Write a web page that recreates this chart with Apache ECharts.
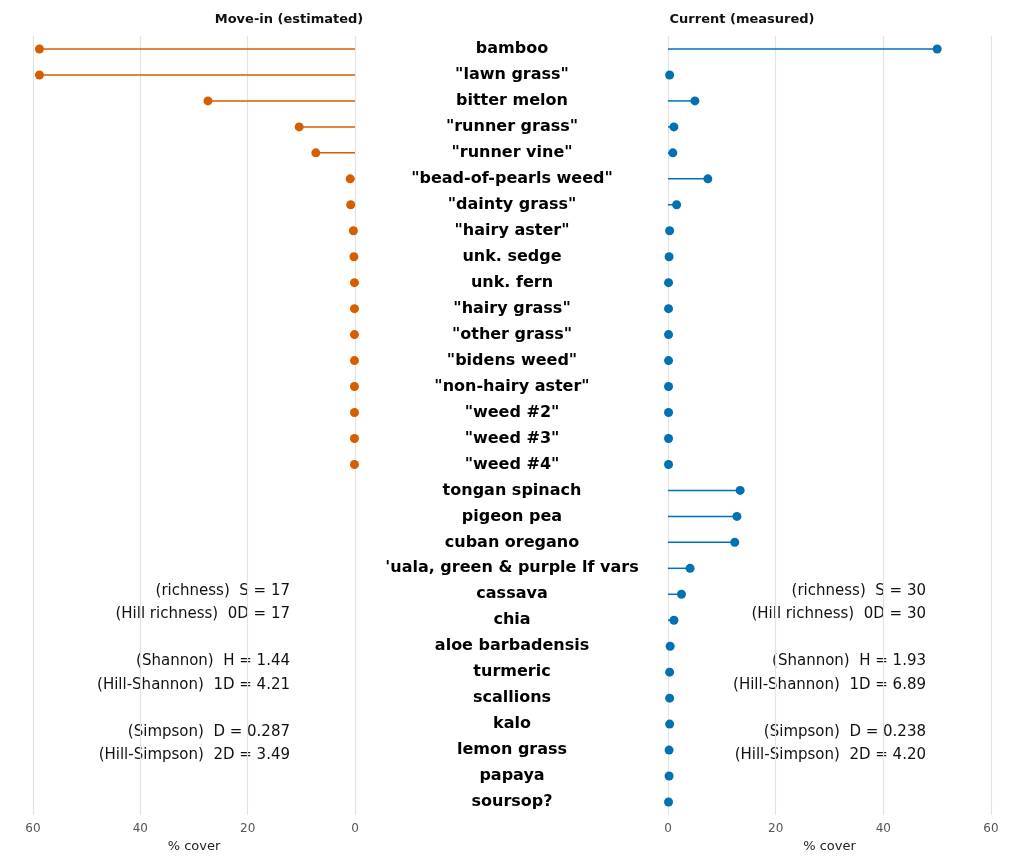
<!DOCTYPE html>
<html>
<head>
<meta charset="utf-8">
<title>Lollipop cover</title>
<script src="https://cdn.jsdelivr.net/npm/echarts@6/dist/echarts.min.js"></script>
</head>
<body style="margin:0">
<div id="main" style="width:1024px;height:866px;"></div>
<script type="text/javascript">
var categories = ['bamboo', '"lawn grass"', 'bitter melon', '"runner grass"', '"runner vine"',
    '"bead-of-pearls weed"', '"dainty grass"', '"hairy aster"', 'unk. sedge', 'unk. fern',
    '"hairy grass"', '"other grass"', '"bidens weed"', '"non-hairy aster"', '"weed #2"',
    '"weed #3"', '"weed #4"', 'tongan spinach', 'pigeon pea', 'cuban oregano',
    "'uala, green & purple lf vars", 'cassava', 'chia', 'aloe barbadensis', 'turmeric',
    'scallions', 'kalo', 'lemon grass', 'papaya', 'soursop?'];
var moveIn = [58.8, 58.8, 27.4, 10.4, 7.3, 0.9, 0.8, 0.3, 0.2, 0.1, 0.1, 0.1, 0.1, 0.1, 0.1, 0.1, 0.1,
    null, null, null, null, null, null, null, null, null, null, null, null, null];
var current = [50.0, 0.3, 5.0, 1.1, 0.9, 7.4, 1.6, 0.3, 0.2, 0.1, 0.1, 0.1, 0.1, 0.1, 0.1, 0.1, 0.1,
    13.4, 12.8, 12.4, 4.1, 2.5, 1.1, 0.4, 0.3, 0.3, 0.3, 0.2, 0.2, 0.1];
var ticks = [0, 20, 40, 60];
var statsLeft = ['(richness)  S = 17', '(Hill richness)  0D = 17', '', '(Shannon)  H = 1.44',
    '(Hill-Shannon)  1D = 4.21', '', '(Simpson)  D = 0.287', '(Hill-Simpson)  2D = 3.49'];
var statsRight = ['(richness)  S = 30', '(Hill richness)  0D = 30', '', '(Shannon)  H = 1.93',
    '(Hill-Shannon)  1D = 6.89', '', '(Simpson)  D = 0.238', '(Hill-Simpson)  2D = 4.20'];

var orange = '#d55e00', blue = '#0072b2';
var myChart = echarts.init(document.getElementById('main'));

function xAxisFor(idx, inverse) {
    return {
        gridIndex: idx, type: 'value', min: 0, max: 60, interval: 20, inverse: inverse,
        name: '% cover', nameLocation: 'middle', nameGap: 20,
        nameTextStyle: { color: '#222', fontSize: 13, fontFamily: 'DejaVu Sans' },
        axisLine: { show: false }, axisTick: { show: false },
        axisLabel: { color: '#555', fontSize: 12, fontFamily: 'DejaVu Sans', margin: 8 },
        splitLine: { lineStyle: { color: '#e3e3e3', width: 1.2 } }
    };
}

function statText(lines, x) {
    return {
        type: 'text', left: null, right: 1024 - x, top: 579,
        style: { text: lines.join('\n'), font: '15px DejaVu Sans', fill: '#111',
                 textAlign: 'right', lineHeight: 23.5 }
    };
}

var option = {
    animation: false,
    title: [
        { text: 'Move-in (estimated)', left: 284, top: 8, textAlign: 'center',
          textStyle: { fontSize: 13, fontWeight: 'bold', fontFamily: 'DejaVu Sans', color: '#111' } },
        { text: 'Current (measured)', left: 737, top: 8, textAlign: 'center',
          textStyle: { fontSize: 13, fontWeight: 'bold', fontFamily: 'DejaVu Sans', color: '#111' } }
    ],
    grid: [
        { left: 33, width: 322, top: 36, height: 779 },
        { left: 668, width: 323, top: 36, height: 779 }
    ],
    xAxis: [xAxisFor(0, true), xAxisFor(1, false)],
    yAxis: [
        { gridIndex: 0, type: 'category', data: categories, inverse: true, position: 'right',
          axisLine: { show: false }, axisTick: { show: false },
          axisLabel: { align: 'center', margin: 157, fontSize: 16, fontWeight: 'bold',
                       fontFamily: 'DejaVu Sans', color: '#000' } },
        { gridIndex: 1, type: 'category', data: categories, inverse: true,
          axisLine: { show: false }, axisTick: { show: false }, axisLabel: { show: false } }
    ],
    graphic: [statText(statsLeft, 290), statText(statsRight, 926)],
    series: [
        { type: 'bar', xAxisIndex: 0, yAxisIndex: 0, data: moveIn, barWidth: 1.5,
          itemStyle: { color: orange } },
        { type: 'scatter', xAxisIndex: 0, yAxisIndex: 0, data: moveIn, symbolSize: 9,
          itemStyle: { color: orange, opacity: 1 } },
        { type: 'bar', xAxisIndex: 1, yAxisIndex: 1, data: current, barWidth: 1.5,
          itemStyle: { color: blue } },
        { type: 'scatter', xAxisIndex: 1, yAxisIndex: 1, data: current, symbolSize: 9,
          itemStyle: { color: blue, opacity: 1 } }
    ]
};
myChart.setOption(option);
</script>
</body>
</html>
